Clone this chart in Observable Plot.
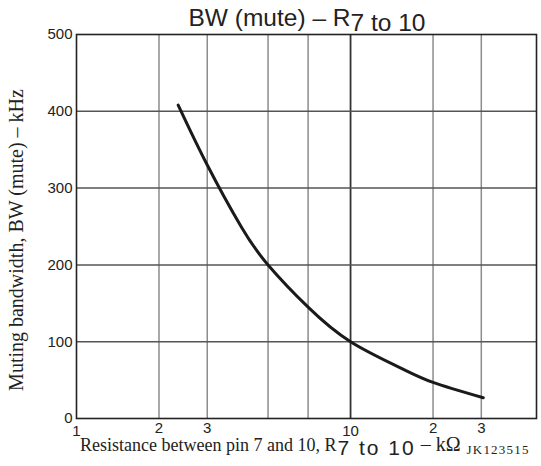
<!DOCTYPE html>
<html>
<head>
<meta charset="utf-8">
<script src="https://cdn.jsdelivr.net/npm/d3@7"></script>
<script src="https://cdn.jsdelivr.net/npm/@observablehq/plot@0.6"></script>
<style>
  html, body { margin: 0; padding: 0; background: #fff; }
  #chart { width: 541px; height: 466px; }
</style>
</head>
<body>
<div id="chart"></div>
<script>
// Curve (x: kΩ, y: kHz)
const resistance = [2.35, 3, 4, 5, 7, 10, 15, 20, 30.5];
const bandwidth  = [408, 330, 249, 200, 145, 100, 67, 47, 27];

// Axes / grid
const xGridMinor = [2, 3, 5, 7, 20, 30];
const xGridMajor = [10];
const xTicksMinor = [2, 3, 5, 7, 20, 30];
const xTicksDecade = [1, 10, 50];
const xTickLabels = {1: "1", 2: "2", 3: "3", 5: "5", 7: "7", 10: "10", 20: "2", 30: "3", 50: "5"};
const yTicks = [0, 100, 200, 300, 400, 500];
const yGrid = [100, 200, 300, 400];

const titleMain = "BW (mute) \u2013 R";
const titleSub = "7 to 10";
const xLabelMain = "Resistance between pin 7 and 10, R";
const xLabelSub = "7 to 10";
const xLabelEnd = " \u2013 k\u03A9";
const xLabelCode = "JK123515";
const yLabel = "Muting bandwidth, BW (mute) \u2013 kHz";

const data = resistance.map((r, i) => ({r, bw: bandwidth[i]}));

const chart = Plot.plot({
  width: 541,
  height: 466,
  marginTop: 34,
  marginLeft: 76,
  marginRight: 5,
  marginBottom: 48,
  style: {fontFamily: "'Liberation Sans', Arial, sans-serif", fontSize: "15px", color: "#222", background: "#fff"},
  x: {type: "log", domain: [1, 47.7]},
  y: {domain: [0, 500]},
  marks: [
    Plot.ruleX(xGridMinor, {stroke: "#8c8c8c", strokeWidth: 1.5}),
    Plot.ruleX(xGridMajor, {stroke: "#333", strokeWidth: 1.8}),
    Plot.ruleY(yGrid, {stroke: "#555", strokeWidth: 1.5}),
    Plot.frame({stroke: "#222", strokeWidth: 1.6}),
    Plot.line(data, {x: "r", y: "bw", curve: "natural", stroke: "#1a1a1a", strokeWidth: 3}),
    Plot.axisY(yTicks, {tickSize: 0, tickPadding: 4, fontSize: 15, label: null}),
    Plot.axisX(xTicksMinor, {tickSize: 0, tickPadding: 4, fontSize: 15, label: null, tickFormat: d => xTickLabels[d]}),
    Plot.axisX(xTicksDecade, {tickSize: 0, tickPadding: 7, fontSize: 15, label: null, tickFormat: d => xTickLabels[d]})
  ]
});

const svg = d3.select(chart);
// Title
const t = svg.append("text")
  .attr("x", 307).attr("y", 26)
  .attr("text-anchor", "middle")
  .style("font-family", "'Liberation Sans', Arial, sans-serif")
  .style("font-size", "24.5px").attr("fill", "#222");
t.append("tspan").text(titleMain);
t.append("tspan").attr("dy", 5).text(titleSub);

// X label
const xl = svg.append("text")
  .attr("x", 80).attr("y", 451)
  .attr("text-anchor", "start")
  .style("font-family", "'Liberation Serif', 'Times New Roman', serif")
  .style("font-size", "18px").attr("fill", "#222");
xl.append("tspan").text(xLabelMain);
xl.append("tspan").attr("dy", 4).attr("dx", 1)
  .style("font-family", "'Liberation Sans', Arial, sans-serif")
  .style("font-size", "21px").style("letter-spacing", "2px").text(xLabelSub);
xl.append("tspan").attr("dy", -4).style("font-size", "20px").text(xLabelEnd);
xl.append("tspan").attr("dy", 3).attr("dx", 6).style("font-size", "13px").style("letter-spacing", "1.2px").text(xLabelCode);

// Y label
svg.append("text")
  .attr("transform", "translate(23,240) rotate(-90)")
  .attr("text-anchor", "middle")
  .style("font-family", "'Liberation Serif', 'Times New Roman', serif")
  .style("font-size", "20px").attr("fill", "#222")
  .text(yLabel);

document.getElementById("chart").appendChild(chart);
</script>
</body>
</html>
